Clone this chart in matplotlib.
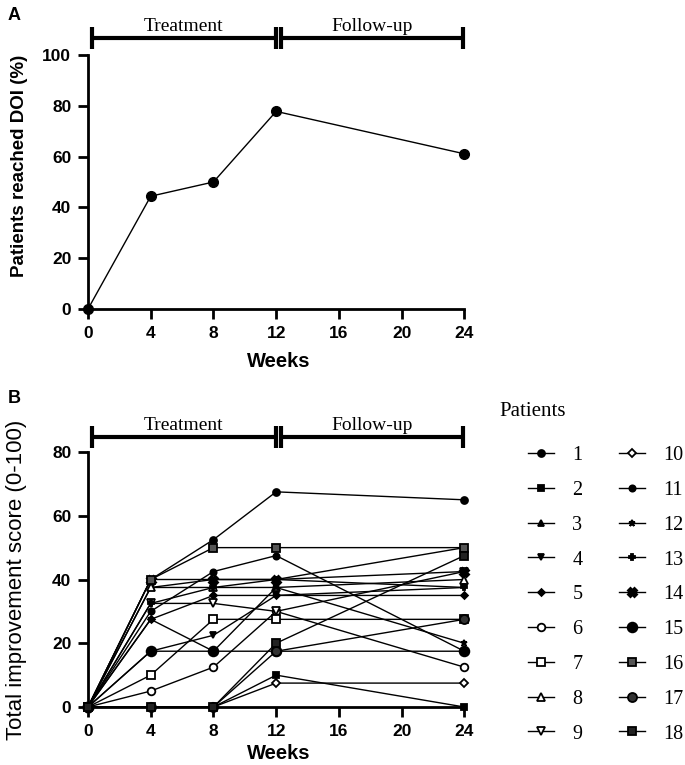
import numpy as np
import matplotlib
matplotlib.use("Agg")
import matplotlib.pyplot as plt
from matplotlib.lines import Line2D

plt.rcParams['font.family'] = ['Liberation Sans', 'DejaVu Sans']

# ---- data ----
weeks = [0, 4, 8, 12, 24]
doi_pct = [0, 44.4, 50.0, 77.8, 61.1]

patients = {
    1:  [0, 40, 52.5, 67.5, 65],
    2:  [0, 0, 0, 10, 0],
    3:  [0, 37.5, 40, 40, 50],
    4:  [0, 17.5, 22.5, 35, 37.5],
    5:  [0, 27.5, 35, 35, 35],
    6:  [0, 5, 12.5, 30, 12.5],
    7:  [0, 10, 27.5, 27.5, 27.5],
    8:  [0, 37.5, 37.5, 37.5, 40],
    9:  [0, 32.5, 32.5, 30, 42.5],
    10: [0, 0, 0, 7.5, 7.5],
    11: [0, 30, 42.5, 47.5, 17.5],
    12: [0, 27.5, 17.5, 37.5, 20],
    13: [0, 32.5, 37.5, 40, 37.5],
    14: [0, 40, 40, 40, 42.5],
    15: [0, 17.5, 17.5, 17.5, 17.5],
    16: [0, 40, 50, 50, 50],
    17: [0, 0, 0, 17.5, 27.5],
    18: [0, 0, 0, 20, 47.5],
}

# marker, size, face colour
styles = {
    1:  ('o', 5, 'black'),
    2:  ('s', 5, 'black'),
    3:  ('^', 5, 'black'),
    4:  ('v', 5, 'black'),
    5:  ('D', 3.5, 'black'),
    6:  ('o', 5.5, 'white'),
    7:  ('s', 5.5, 'white'),
    8:  ('^', 5.5, 'white'),
    9:  ('v', 5.5, 'white'),
    10: ('D', 4, 'white'),
    11: ('o', 4.5, 'black'),
    12: ('*', 5, 'black'),
    13: ('P', 4, 'black'),
    14: ('X', 5.5, 'black'),
    15: ('o', 7, 'black'),
    16: ('s', 6, '#555555'),
    17: ('o', 6.5, '#333333'),
    18: ('s', 6, '#222222'),
}

fig = plt.figure(figsize=(6.85, 7.65), dpi=100)
axA = fig.add_axes([88/685, 1-309/765, 381/685, 254/765])
axB = fig.add_axes([88/685, 1-707/765, 381/685, 255/765])


def style_axis(ax, ymax, lpad):
    ax.set_xlim(0, 24.3)
    ax.set_ylim(0, ymax)
    ax.set_xticks([0, 4, 8, 12, 16, 20, 24])
    ax.set_yticks(np.arange(0, ymax + 1, 20))
    for s in ['top', 'right']:
        ax.spines[s].set_visible(False)
    for s in ['left', 'bottom']:
        ax.spines[s].set_linewidth(2)
    ax.spines['bottom'].set_bounds(0, 24)
    ax.tick_params(width=2, length=7, labelsize=12.5, pad=5)
    for lab in ax.get_xticklabels() + ax.get_yticklabels():
        lab.set_fontweight('bold')
    ax.set_xlabel('Weeks', fontsize=14.5, fontweight='bold', labelpad=lpad)


def bracket(ax, y, h):
    kw = dict(color='black', lw=3, clip_on=False, solid_capstyle='butt')
    ax.plot([0.25, 12.0], [y, y], **kw)
    ax.plot([12.3, 23.9], [y, y], **kw)
    for x in [0.25, 12.0, 12.3, 23.9]:
        ax.plot([x, x], [y - h, y + h], **kw)
    ax.text(6.1, y + h * 0.25, 'Treatment', ha='center', va='bottom',
            fontsize=14, family='Liberation Serif')
    ax.text(18.1, y + h * 0.25, 'Follow-up', ha='center', va='bottom',
            fontsize=14, family='Liberation Serif')


# ---- Panel A ----
axA.plot(weeks, doi_pct, color='black', lw=1, marker='o', ms=7, clip_on=False, zorder=5)
style_axis(axA, 100, 8)
axA.set_ylabel('Patients reached DOI (%)', fontsize=13.5, fontweight='bold')
axA.yaxis.set_label_coords(-0.158, 0.565)
bracket(axA, 106.7, 4.3)

# ---- Panel B ----
handles = []
for p, vals in patients.items():
    m, ms, fc = styles[p]
    mew = 2 if m in ('X',) else 1.3
    axB.plot(weeks, vals, color='black', lw=1, marker=m, ms=ms, mfc=fc,
             mec='black', mew=mew, clip_on=False, zorder=5)
    handles.append(Line2D([], [], color='black', lw=1, marker=m, ms=ms, mfc=fc,
                          mec='black', mew=mew, label=str(p)))
style_axis(axB, 80, 3.5)
axB.set_ylabel('Total improvement score (0-100)', fontsize=16)
axB.yaxis.set_label_coords(-0.16, 0.5)
bracket(axB, 84.7, 3.5)

fig.text(8/685, 1-15/765, 'A', fontsize=13, fontweight='bold', va='center')
fig.text(8/685, 1-398/765, 'B', fontsize=13, fontweight='bold', va='center')

fig.text(499/685, 1-412/765, 'Patients', fontsize=15, va='center',
         family='Liberation Serif')
fig.legend(handles=handles, ncol=2, loc='upper left',
           bbox_to_anchor=(528/685, 1-446/765), frameon=False,
           prop={'family': 'Liberation Serif', 'size': 14.5},
           handlelength=1.3, handletextpad=0.9, columnspacing=1.8,
           labelspacing=0.78, borderpad=0, borderaxespad=0)

fig.savefig('out.png', dpi=100)
